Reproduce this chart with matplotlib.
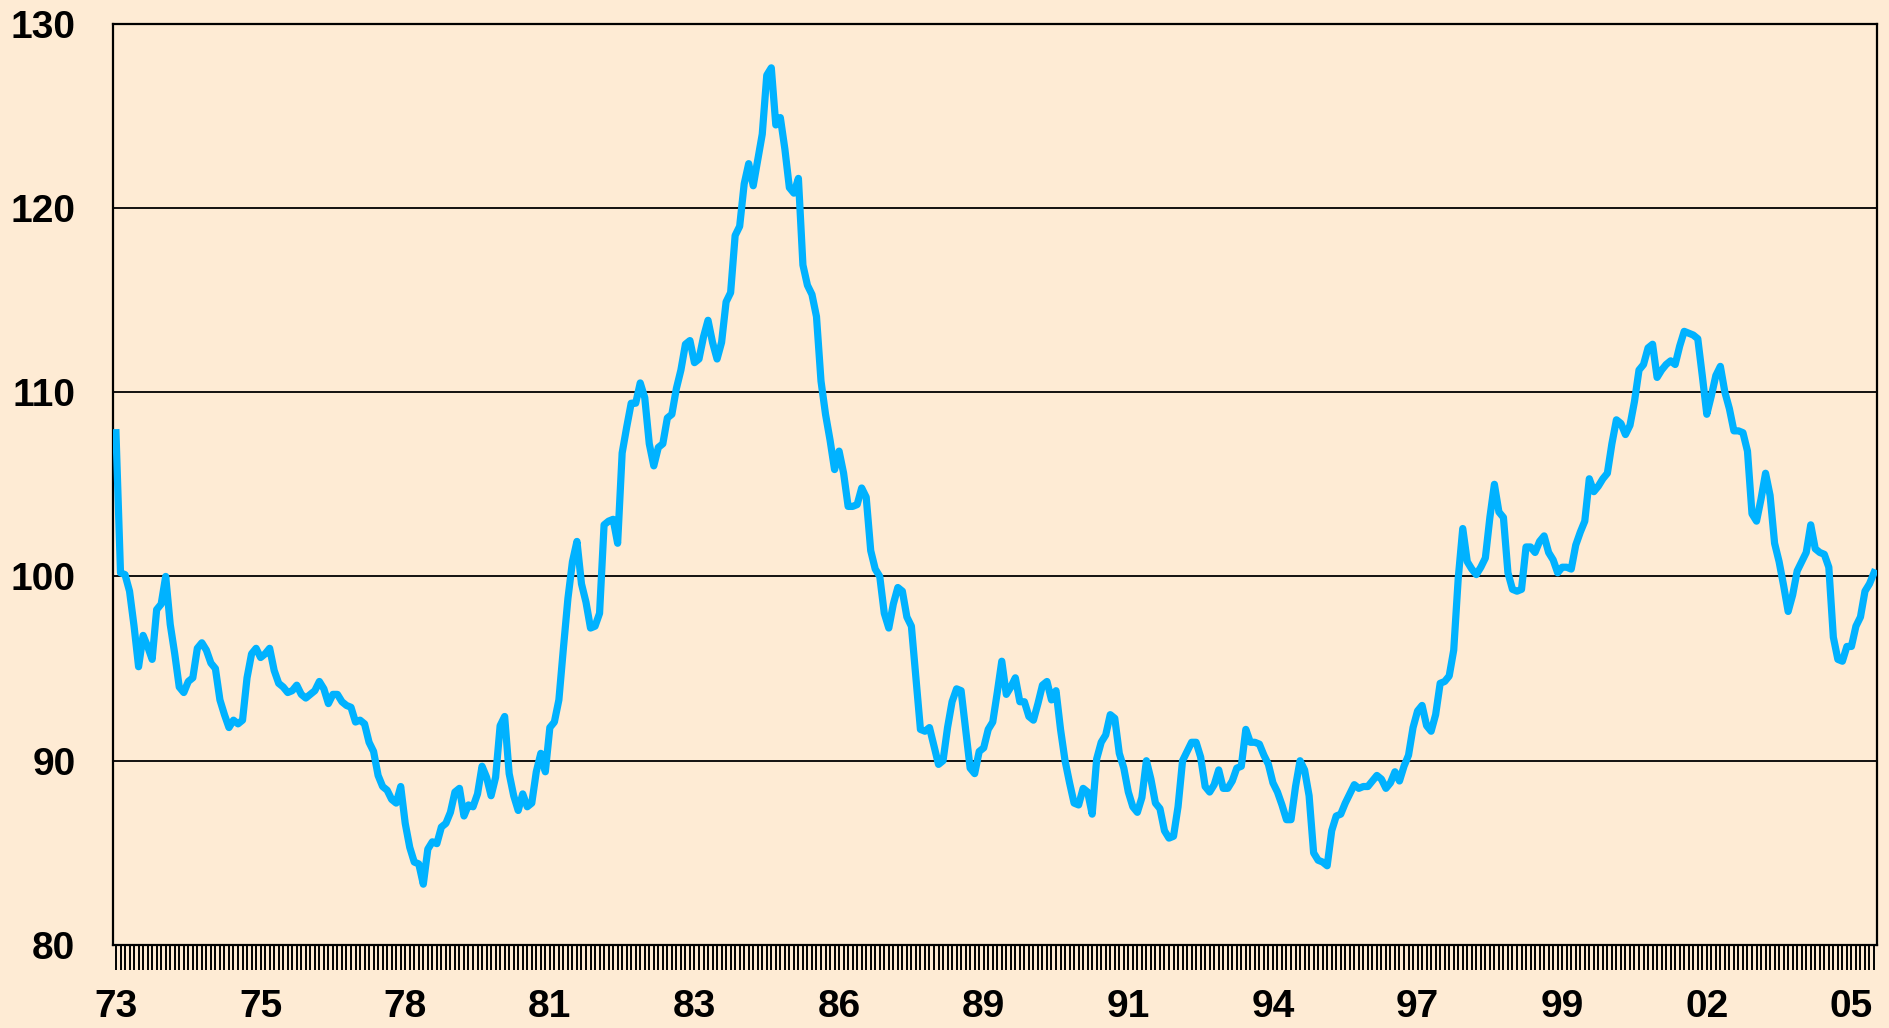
import matplotlib
matplotlib.use("Agg")
import matplotlib.pyplot as plt
import numpy as np

# Monthly index values, Jan 1973 onwards
index_values = [
    107.8, 100.2, 100.1, 99.2, 97.3, 95.1, 96.8, 96.2, 95.5, 98.2, 98.5, 100.0,
    97.4, 95.8, 94.0, 93.7, 94.3, 94.5, 96.1, 96.4, 96.0, 95.3, 95.0, 93.3,
    92.5, 91.8, 92.2, 92.0, 92.2, 94.5, 95.8, 96.1, 95.6, 95.8, 96.1, 94.9,
    94.2, 94.0, 93.7, 93.8, 94.1, 93.6, 93.4, 93.6, 93.8, 94.3, 93.9, 93.1,
    93.6, 93.6, 93.2, 93.0, 92.9, 92.1, 92.2, 92.0, 91.0, 90.5, 89.2, 88.6,
    88.4, 87.9, 87.7, 88.6, 86.6, 85.3, 84.5, 84.4, 83.3, 85.2, 85.6, 85.5,
    86.4, 86.6, 87.2, 88.3, 88.5, 87.0, 87.6, 87.5, 88.2, 89.7, 89.1, 88.1,
    89.1, 91.9, 92.4, 89.3, 88.1, 87.3, 88.2, 87.5, 87.7, 89.4, 90.4, 89.4,
    91.8, 92.1, 93.3, 96.1, 98.8, 100.8, 101.9, 99.6, 98.6, 97.2, 97.3, 98.0,
    102.8, 103.0, 103.1, 101.8, 106.7, 108.1, 109.4, 109.4, 110.5, 109.7, 107.2, 106.0,
    107.0, 107.2, 108.6, 108.8, 110.2, 111.2, 112.6, 112.8, 111.6, 111.8, 113.0, 113.9,
    112.7, 111.8, 112.7, 114.9, 115.4, 118.5, 119.0, 121.3, 122.4, 121.2, 122.6, 124.0,
    127.2, 127.6, 124.5, 124.9, 123.2, 121.1, 120.8, 121.6, 116.9, 115.8, 115.3, 114.1,
    110.6, 108.8, 107.4, 105.8, 106.8, 105.6, 103.8, 103.8, 103.9, 104.8, 104.3, 101.4,
    100.4, 100.0, 98.0, 97.2, 98.5, 99.4, 99.2, 97.8, 97.3, 94.5, 91.7, 91.6,
    91.8, 90.8, 89.8, 90.0, 91.8, 93.2, 93.9, 93.8, 91.7, 89.6, 89.3, 90.5,
    90.7, 91.7, 92.1, 93.7, 95.4, 93.6, 94.0, 94.5, 93.2, 93.2, 92.4, 92.2,
    93.1, 94.1, 94.3, 93.3, 93.8, 91.7, 90.0, 88.8, 87.7, 87.6, 88.5, 88.3,
    87.1, 90.1, 91.0, 91.4, 92.5, 92.3, 90.4, 89.6, 88.3, 87.5, 87.2, 88.0,
    90.0, 89.0, 87.7, 87.4, 86.2, 85.8, 85.9, 87.5, 90.0, 90.5, 91.0, 91.0,
    90.2, 88.6, 88.3, 88.7, 89.5, 88.5, 88.5, 88.9, 89.6, 89.7, 91.7, 91.0,
    91.0, 90.9, 90.3, 89.8, 88.8, 88.3, 87.6, 86.8, 86.8, 88.6, 90.0, 89.5,
    88.1, 85.0, 84.6, 84.5, 84.3, 86.2, 87.0, 87.1, 87.7, 88.2, 88.7, 88.5,
    88.6, 88.6, 88.9, 89.2, 89.0, 88.5, 88.8, 89.4, 88.9, 89.7, 90.3, 91.8,
    92.7, 93.0, 91.9, 91.6, 92.5, 94.2, 94.3, 94.6, 96.0, 99.9, 102.6, 100.8,
    100.4, 100.1, 100.5, 101.0, 103.2, 105.0, 103.5, 103.2, 100.2, 99.3, 99.2, 99.3,
    101.6, 101.6, 101.3, 101.9, 102.2, 101.3, 100.9, 100.2, 100.5, 100.5, 100.4, 101.7,
    102.4, 103.0, 105.3, 104.6, 104.9, 105.3, 105.6, 107.2, 108.5, 108.3, 107.7, 108.2,
    109.5, 111.2, 111.5, 112.4, 112.6, 110.8, 111.2, 111.5, 111.7, 111.5, 112.5, 113.3,
    113.2, 113.1, 112.9, 110.9, 108.8, 109.8, 110.9, 111.4, 110.0, 109.1, 107.9, 107.9,
    107.8, 106.8, 103.4, 103.0, 104.2, 105.6, 104.4, 101.8, 100.8, 99.5, 98.1, 99.0,
    100.3, 100.8, 101.3, 102.8, 101.5, 101.3, 101.2, 100.5, 96.7, 95.5, 95.4, 96.2,
    96.2, 97.3, 97.8, 99.2, 99.6, 100.2,
]

# a year label every 32 months
year_labels = ["73", "75", "78", "81", "83", "86", "89", "91", "94", "97", "99", "02", "05"]
label_step = 32

y_ticks = [80, 90, 100, 110, 120, 130]

BG = "#FEEBD4"
LINE = "#00B2FF"

plt.rcParams["font.family"] = ["Liberation Sans", "DejaVu Sans"]
plt.rcParams["font.weight"] = "bold"

n = len(index_values)
months = np.arange(n)

fig = plt.figure(figsize=(18.9, 10.28), dpi=100, facecolor=BG)
ax = fig.add_axes([113 / 1890, 1 - 945 / 1028, (1877 - 113) / 1890, (945 - 23.6) / 1028])
ax.set_facecolor(BG)

ax.plot(months, index_values, color=LINE, linewidth=5.2, zorder=3)

ax.set_xlim(-0.66, n - 1 + 0.66)
ax.set_ylim(80, 130)

# every month gets a tick, only every 32nd one a label
tick_labels = [""] * n
for i, lab in zip(range(0, n, label_step), year_labels):
    tick_labels[i] = lab
ax.set_xticks(months)
ax.set_xticklabels(tick_labels)
ax.set_yticks(y_ticks)
ax.set_yticklabels([str(v) for v in y_ticks])

ax.tick_params(axis="x", length=18, width=1.4, direction="out", pad=14,
               labelsize=28, colors="black")
ax.tick_params(axis="y", length=0, pad=27, labelsize=28, colors="black")

ax.yaxis.grid(True, color="black", linewidth=1.3)
ax.set_axisbelow(True)
for sp in ax.spines.values():
    sp.set_color("black")
    sp.set_linewidth(1.6)

fig.savefig("out.png", dpi=100, facecolor=BG)
